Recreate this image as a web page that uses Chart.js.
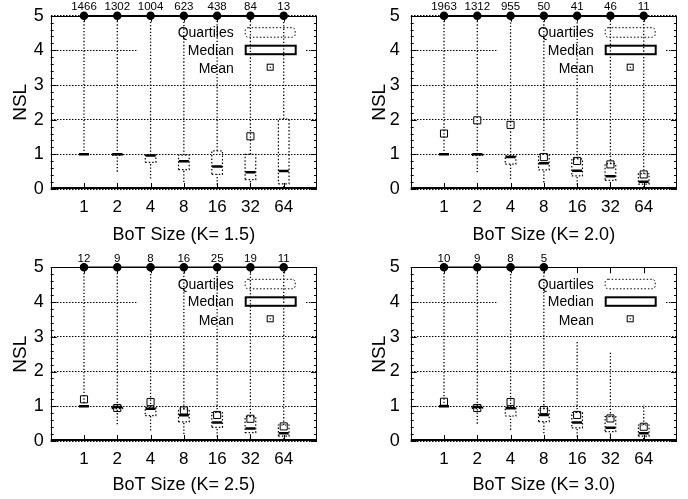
<!DOCTYPE html>
<html lang="en">
<head>
  <meta charset="UTF-8" />
  <title>NSL vs BoT Size</title>
  <script src="https://cdn.jsdelivr.net/npm/chart.js"></script>
  <style>
    body {
      margin: 0;
      padding: 0;
      background: #fff;
    }
    .sheet {
      position: relative;
      width: 688px;
      height: 499px;
    }
    .panel {
      position: absolute;
      width: 344px;
    }
  </style>
</head>
<body>
  <div class="sheet">
    <div class="panel" style="left:0;top:0;height:250px"><canvas id="k15"></canvas></div>
    <div class="panel" style="left:344px;top:0;height:250px"><canvas id="k20"></canvas></div>
    <div class="panel" style="left:0;top:250px;height:249px"><canvas id="k25"></canvas></div>
    <div class="panel" style="left:344px;top:250px;height:249px"><canvas id="k30"></canvas></div>
  </div>

  <script>
    const sizes = ['1', '2', '4', '8', '16', '32', '64'];
    const nslTicks = [0, 1, 2, 3, 4, 5];

    // K = 1.5
    const k15Lower  = [1.0, 0.50, 0.30, 0.20, 0.12, 0.10, 0.05];
    const k15Q1     = [1.0, 0.98, 0.77, 0.56, 0.42, 0.27, 0.15];
    const k15Median = [1.0, 1.00, 0.97, 0.80, 0.65, 0.48, 0.52];
    const k15Q3     = [1.0, 1.00, 0.98, 0.98, 1.10, 1.00, 2.02];
    const k15Upper  = [5, 5, 5, 5, 5, 5, 5];
    const k15Mean   = [null, null, null, null, null, 1.52, null];
    const k15Count  = [1466, 1302, 1004, 623, 438, 84, 13];

    // K = 2.0
    const k20Lower  = [1.0, 0.48, 0.29, 0.19, 0.12, 0.07, 0.04];
    const k20Q1     = [1.0, 0.97, 0.72, 0.55, 0.38, 0.25, 0.14];
    const k20Median = [1.0, 1.00, 0.92, 0.74, 0.53, 0.37, 0.21];
    const k20Q3     = [1.0, 1.00, 0.96, 1.00, 0.87, 0.73, 0.44];
    const k20Upper  = [5, 5, 5, 5, 5, 5, 5];
    const k20Mean   = [1.60, 1.98, 1.85, 0.92, 0.81, 0.71, 0.42];
    const k20Count  = [1963, 1312, 955, 50, 41, 46, 11];

    // K = 2.5
    const k25Lower  = [1.0, 0.48, 0.30, 0.20, 0.12, 0.06, 0.04];
    const k25Q1     = [1.0, 0.93, 0.73, 0.55, 0.39, 0.24, 0.14];
    const k25Median = [1.0, 0.98, 0.93, 0.74, 0.53, 0.36, 0.22];
    const k25Q3     = [1.0, 1.00, 0.97, 0.92, 0.82, 0.70, 0.46];
    const k25Upper  = [5, 5, 5, 5, 5, 5, 5];
    const k25Mean   = [1.20, 0.95, 1.12, 0.88, 0.75, 0.64, 0.42];
    const k25Count  = [12, 9, 8, 16, 25, 19, 11];

    // K = 3.0
    const k30Lower  = [1.0, 0.50, 0.32, 0.22, 0.12, 0.08, 0.05];
    const k30Q1     = [1.0, 0.94, 0.72, 0.56, 0.38, 0.27, 0.14];
    const k30Median = [1.0, 0.98, 0.94, 0.75, 0.53, 0.38, 0.22];
    const k30Q3     = [1.0, 1.00, 0.97, 0.93, 0.82, 0.70, 0.46];
    const k30Upper  = [5, 5, 5, 5, 2.87, 2.58, 1.04];
    const k30Mean   = [1.13, 0.95, 1.12, 0.89, 0.75, 0.65, 0.41];
    const k30Count  = [10, 9, 8, 5, null, null, null];

    const FONT = '"Liberation Sans", Arial, Helvetica, sans-serif';
    Chart.defaults.font.family = FONT;
    Chart.defaults.color = '#000';

    const BOX_HALF = 0.16;
    const MED_HALF = 0.15;

    function whiskerPoints(lower, q1, q3, upper) {
      const pts = [];
      sizes.forEach((s, i) => {
        const x = i + 1;
        pts.push({ x: x, y: q3[i] }, { x: x, y: upper[i] }, { x: x, y: null });
        if (lower[i] < q1[i]) {
          pts.push({ x: x, y: lower[i] }, { x: x, y: q1[i] }, { x: x, y: null });
        }
      });
      return pts;
    }

    function boxPoints(q1, q3) {
      const pts = [];
      sizes.forEach((s, i) => {
        const x = i + 1;
        if (q3[i] - q1[i] < 0.005) return;
        pts.push({ x: x - BOX_HALF, y: q1[i] }, { x: x + BOX_HALF, y: q1[i] },
                 { x: x + BOX_HALF, y: q3[i] }, { x: x - BOX_HALF, y: q3[i] },
                 { x: x - BOX_HALF, y: q1[i] }, { x: x, y: null });
      });
      return pts;
    }

    function medianPoints(median) {
      const pts = [];
      sizes.forEach((s, i) => {
        const x = i + 1;
        pts.push({ x: x - MED_HALF, y: median[i] }, { x: x + MED_HALF, y: median[i] }, { x: x, y: null });
      });
      return pts;
    }

    function meanPoints(mean) {
      return sizes.map((s, i) => ({ x: i + 1, y: mean[i] })).filter(p => p.y !== null);
    }

    function countPoints(count) {
      return sizes.map((s, i) => ({ x: i + 1, y: 5, n: count[i] })).filter(p => p.n !== null);
    }

    // gnuplot-like frame, inward ticks, key and the counts above the top border
    const gnuplotFrame = {
      id: 'gnuplotFrame',
      beforeDatasetsDraw(chart) {
        const { ctx, chartArea: a } = chart;
        ctx.save();
        ctx.fillStyle = '#fff';
        ctx.fillRect(a.left + 86, a.top + 3, 169, 58);
        ctx.restore();
      },
      afterDatasetsDraw(chart) {
        const { ctx, chartArea: a, scales: { x, y } } = chart;
        ctx.save();
        ctx.strokeStyle = '#000';
        ctx.lineWidth = 1;
        ctx.setLineDash([]);
        ctx.beginPath();
        for (let k = 0; k <= 25; k++) {
          const v = k / 5;
          const py = Math.round(y.getPixelForValue(v)) + 0.5;
          const len = k % 5 === 0 ? 6 : 3;
          ctx.moveTo(a.left, py); ctx.lineTo(a.left + len, py);
          ctx.moveTo(a.right, py); ctx.lineTo(a.right - len, py);
        }
        sizes.forEach((s, i) => {
          const px = Math.round(x.getPixelForValue(i + 1)) + 0.5;
          ctx.moveTo(px, a.bottom); ctx.lineTo(px, a.bottom - 6);
          ctx.moveTo(px, a.top); ctx.lineTo(px, a.top + 6);
        });
        ctx.stroke();

        ctx.strokeRect(Math.round(a.left) + 0.5, Math.round(a.top) + 0.5,
                       Math.round(a.right) - Math.round(a.left) - 1, Math.round(a.bottom) - Math.round(a.top) - 1);
        ctx.lineWidth = 2;
        ctx.beginPath();
        ctx.moveTo(a.left, Math.round(a.bottom) - 1);
        ctx.lineTo(a.right, Math.round(a.bottom) - 1);
        ctx.stroke();

        // counts
        const dotsIndex = chart.data.datasets.length - 1;
        const meta = chart.getDatasetMeta(dotsIndex);
        const dots = chart.data.datasets[dotsIndex].data;
        ctx.fillStyle = '#000';
        ctx.font = '11.5px ' + FONT;
        ctx.textAlign = 'center';
        ctx.textBaseline = 'middle';
        meta.data.forEach((pt, j) => ctx.fillText(String(dots[j].n), pt.x, pt.y - 8.5));

        // key
        ctx.font = '14px ' + FONT;
        ctx.textAlign = 'right';
        const tx = a.left + 183;
        ctx.fillText('Quartiles', tx, a.top + 17.5);
        ctx.fillText('Median', tx, a.top + 35.3);
        ctx.fillText('Mean', tx, a.top + 53.5);

        ctx.lineWidth = 1;
        ctx.setLineDash([1.5, 2]);
        ctx.beginPath();
        ctx.roundRect(a.left + 194.5, a.top + 12, 50, 9.5, 3);
        ctx.stroke();

        ctx.setLineDash([]);
        ctx.lineWidth = 2;
        ctx.strokeRect(a.left + 195, a.top + 30, 50, 8.5);

        ctx.lineWidth = 1;
        ctx.strokeRect(a.left + 216.5, a.top + 48.5, 6, 6);
        ctx.fillRect(a.left + 219, a.top + 51, 1.2, 1.2);
        ctx.restore();
      }
    };

    function makePanel(id, kText, lower, q1, median, q3, upper, mean, count, L) {
      const datasets = [
        {
          data: whiskerPoints(lower, q1, q3, upper),
          showLine: true, borderColor: '#000', borderWidth: 1.3, borderDash: [1.3, 2],
          pointRadius: 0, spanGaps: false
        },
        {
          data: boxPoints(q1, q3),
          showLine: true, borderColor: '#000', borderWidth: 1.2, borderDash: [1.5, 2],
          pointRadius: 0, spanGaps: false
        },
        {
          data: medianPoints(median),
          showLine: true, borderColor: '#000', borderWidth: 2.5, borderCapStyle: 'butt',
          pointRadius: 0, spanGaps: false
        },
        {
          data: meanPoints(mean),
          pointStyle: 'rect', pointRadius: 5, borderWidth: 1,
          borderColor: '#000', backgroundColor: '#fff'
        },
        {
          data: meanPoints(mean),
          pointStyle: 'circle', pointRadius: 0.8, borderWidth: 0,
          backgroundColor: '#000'
        },
        {
          data: countPoints(count),
          showLine: true, borderColor: '#000', borderWidth: 1.5,
          pointRadius: 3.5, backgroundColor: '#000', clip: false
        }
      ];

      return new Chart(document.getElementById(id), {
        type: 'scatter',
        data: { datasets: datasets },
        plugins: [gnuplotFrame],
        options: {
          responsive: true,
          maintainAspectRatio: false,
          animation: false,
          events: [],
          layout: { padding: { left: 0, right: L.padRight, top: L.padTop, bottom: 0 } },
          plugins: {
            legend: { display: false },
            tooltip: { enabled: false }
          },
          scales: {
            x: {
              type: 'linear',
              min: 0,
              max: 8,
              afterBuildTicks: s => { s.ticks = sizes.map((t, i) => ({ value: i + 1 })); },
              afterFit: s => { s.height = L.xHeight; },
              ticks: {
                callback: v => sizes[v - 1],
                color: '#000',
                font: { size: 17 },
                padding: 8,
                maxRotation: 0,
                autoSkip: false
              },
              grid: { display: false, drawTicks: false },
              border: { display: false },
              title: {
                display: true,
                text: 'BoT Size (K= ' + kText + ')',
                color: '#000',
                font: { size: 18 },
                padding: { top: 0, bottom: L.xTitlePad }
              }
            },
            y: {
              min: 0,
              max: 5,
              afterBuildTicks: s => { s.ticks = nslTicks.map(v => ({ value: v })); },
              afterFit: s => { s.width = L.yWidth; },
              ticks: { color: '#000', font: { size: 18 }, padding: 0 },
              grid: {
                color: '#000', lineWidth: 1,
                drawTicks: true, tickLength: L.yTickGap, tickColor: 'rgba(0,0,0,0)'
              },
              border: { display: false, dash: [1.5, 1.5] },
              title: {
                display: true,
                text: 'NSL',
                color: '#000',
                font: { size: 19 },
                padding: { top: L.yTitlePad, bottom: 0 }
              }
            }
          }
        }
      });
    }

    const leftTop   = { padRight: 27, padTop: 15.7, xHeight: 61, xTitlePad: 4.2, yWidth: 50.7, yTitlePad: 9, yTickGap: 7 };
    const rightTop  = { padRight: 11, padTop: 15.7, xHeight: 61, xTitlePad: 4.2, yWidth: 66.7, yTitlePad: 24, yTickGap: 11 };
    const leftBot   = { padRight: 27, padTop: 17.3, xHeight: 58, xTitlePad: 3.2, yWidth: 50.7, yTitlePad: 9, yTickGap: 7 };
    const rightBot  = { padRight: 11, padTop: 17.3, xHeight: 58, xTitlePad: 3.2, yWidth: 66.7, yTitlePad: 24, yTickGap: 11 };

    makePanel('k15', '1.5', k15Lower, k15Q1, k15Median, k15Q3, k15Upper, k15Mean, k15Count, leftTop);
    makePanel('k20', '2.0', k20Lower, k20Q1, k20Median, k20Q3, k20Upper, k20Mean, k20Count, rightTop);
    makePanel('k25', '2.5', k25Lower, k25Q1, k25Median, k25Q3, k25Upper, k25Mean, k25Count, leftBot);
    makePanel('k30', '3.0', k30Lower, k30Q1, k30Median, k30Q3, k30Upper, k30Mean, k30Count, rightBot);
  </script>
</body>
</html>
